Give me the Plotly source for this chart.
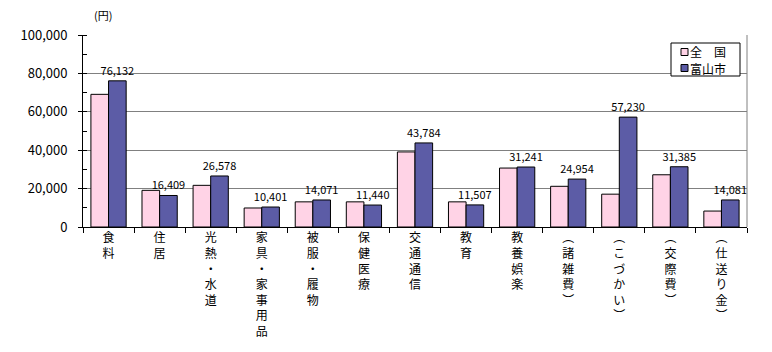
import plotly.graph_objects as go

categories = ["食料", "住居", "光熱・水道", "家具・家事用品", "被服・履物", "保健医療",
              "交通通信", "教育", "教養娯楽", "︵諸雑費︶", "︵こづかい︶", "︵交際費︶", "︵仕送り金︶"]
national = [69100, 19100, 21700, 9900, 13100, 13100, 39100, 13100, 30700, 21200, 17100, 27200, 8300]
toyama = [76132, 16409, 26578, 10401, 14071, 11440, 43784, 11507, 31241, 24954, 57230, 31385, 14081]
series_names = ["全　国", "富山市"]
series_colors = ["#ffd3e6", "#5c5ca6"]
yticks = [0, 20000, 40000, 60000, 80000, 100000]

FONT = "Noto Sans CJK JP"
ticktext = ["<br>".join(list(c)) for c in categories]

# plot-area geometry in pixels (for the hand-made legend)
L, R, T, B = 83, 25, 35, 125
PW, PH = 772 - L - R, 352 - T - B


def px2x(px):
    return (px - L) / PW


def py2y(py):
    return (352 - B - py) / PH


fig = go.Figure()
fig.add_trace(go.Bar(
    x=categories, y=national, name=series_names[0], showlegend=False,
    marker=dict(color=series_colors[0], line=dict(color="black", width=1)),
))
fig.add_trace(go.Bar(
    x=categories, y=toyama, name=series_names[1], showlegend=False,
    marker=dict(color=series_colors[1], line=dict(color="black", width=1)),
    texttemplate="%{y:,}", textposition="outside", constraintext="none",
    textfont=dict(size=11, color="black", family=FONT), cliponaxis=False,
))

shapes = [
    dict(type="line", xref="paper", yref="paper", x0=1, x1=1, y0=0, y1=1,
         line=dict(color="#808080", width=1)),
    dict(type="rect", xref="paper", yref="paper", x0=px2x(671), x1=px2x(740),
         y0=py2y(76), y1=py2y(43), line=dict(color="black", width=1), fillcolor="white"),
]
annotations = [dict(text="(円)", xref="paper", yref="paper", x=px2x(103), y=py2y(15),
                    xanchor="center", yanchor="middle", showarrow=False,
                    font=dict(size=11, family=FONT))]
for i, (nm, col) in enumerate(zip(series_names, series_colors)):
    cy = 52 + i * 16
    shapes.append(dict(type="rect", xref="paper", yref="paper",
                       x0=px2x(681), x1=px2x(688), y0=py2y(cy + 3.5), y1=py2y(cy - 3.5),
                       line=dict(color="black", width=1), fillcolor=col))
    annotations.append(dict(text=nm, xref="paper", yref="paper", x=px2x(688), y=py2y(cy),
                            xanchor="left", yanchor="middle", showarrow=False,
                            font=dict(size=12, family=FONT)))

fig.update_layout(
    width=772, height=352,
    margin=dict(l=L, r=R, t=T, b=B),
    paper_bgcolor="white", plot_bgcolor="white",
    barmode="group", bargap=0.31, bargroupgap=0,
    font=dict(family=FONT, size=13, color="black"),
    showlegend=False,
    xaxis=dict(type="category", tickvals=categories, ticktext=ticktext,
               tickson="boundaries", ticks="outside", ticklen=5, tickcolor="black",
               showline=True, linecolor="black", linewidth=1, automargin=False,
               tickfont=dict(size=12, family=FONT), showgrid=False),
    yaxis=dict(range=[0, 100000], tickvals=yticks, tickformat=",",
               ticks="outside", ticklen=4, tickcolor="black", ticklabelstandoff=8,
               showline=True, linecolor="black", linewidth=1, automargin=False,
               showgrid=True, gridcolor="#808080", gridwidth=1,
               minor=dict(dtick=10000, ticks="inside", ticklen=4, tickcolor="black", showgrid=False),
               tickfont=dict(size=13, family=FONT), zeroline=False),
    annotations=annotations,
    shapes=shapes,
)

fig.write_html("out.html")
